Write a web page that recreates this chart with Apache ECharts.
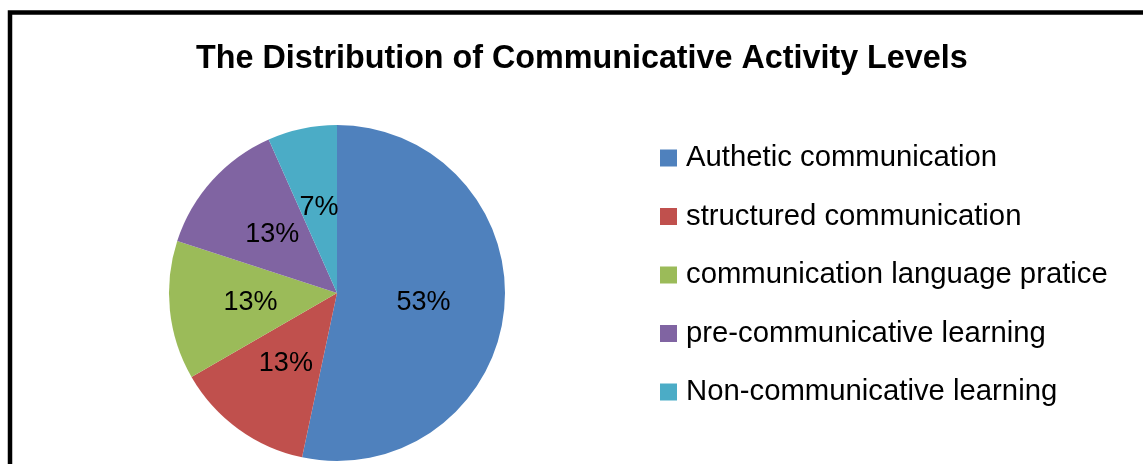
<!DOCTYPE html>
<html>
<head>
<meta charset="utf-8">
<script src="https://cdn.jsdelivr.net/npm/echarts@6/dist/echarts.min.js"></script>
<style>
html,body{margin:0;padding:0;background:#fff;}
#chart{width:1143px;height:464px;}
</style>
</head>
<body>
<div id="chart"></div>
<script>
var titleText = 'The Distribution of Communicative Activity Levels';
var categories = ['Authetic communication', 'structured communication', 'communication language pratice', 'pre-communicative learning', 'Non-communicative learning'];
var values = [8, 2, 2, 2, 1];
var colors = ['#4F81BD', '#C0504D', '#9BBB59', '#8064A2', '#4BACC6'];

var FONT = '"Liberation Sans", Arial, sans-serif';
var chart = echarts.init(document.getElementById('chart'), null, {renderer: 'canvas'});
var data = categories.map(function (c, i) { return {name: c, value: values[i]}; });

chart.setOption({
  animation: false,
  backgroundColor: '#fff',
  color: colors,
  title: {
    text: titleText,
    left: 196,
    top: 43,
    padding: 0,
    textStyle: {fontFamily: FONT, fontSize: 32.3, fontWeight: 'bold', color: '#000'}
  },
  legend: {
    orient: 'vertical',
    left: 660,
    top: 143,
    padding: 0,
    icon: 'rect',
    itemWidth: 17,
    itemHeight: 17,
    itemGap: 28.5,
    selectedMode: false,
    textStyle: {fontFamily: FONT, fontSize: 29.3, color: '#000', lineHeight: 30, padding: [0, 0, 0, 4]},
    data: categories
  },
  graphic: [{
    type: 'rect',
    shape: {x: 10, y: 12.5, width: 1300, height: 600},
    style: {fill: 'none', stroke: '#000', lineWidth: 4.5},
    silent: true,
    z: 10
  }],
  series: [{
    type: 'pie',
    center: [337, 293],
    radius: 168,
    startAngle: 90,
    clockwise: true,
    avoidLabelOverlap: false,
    label: {
      show: true,
      position: 'inside',
      formatter: function (p) { return Math.round(p.percent) + '%'; },
      fontFamily: FONT,
      fontSize: 27,
      color: '#000'
    },
    labelLine: {show: false},
    itemStyle: {borderWidth: 0},
    emphasis: {disabled: true},
    data: data
  }]
});
</script>
</body>
</html>
